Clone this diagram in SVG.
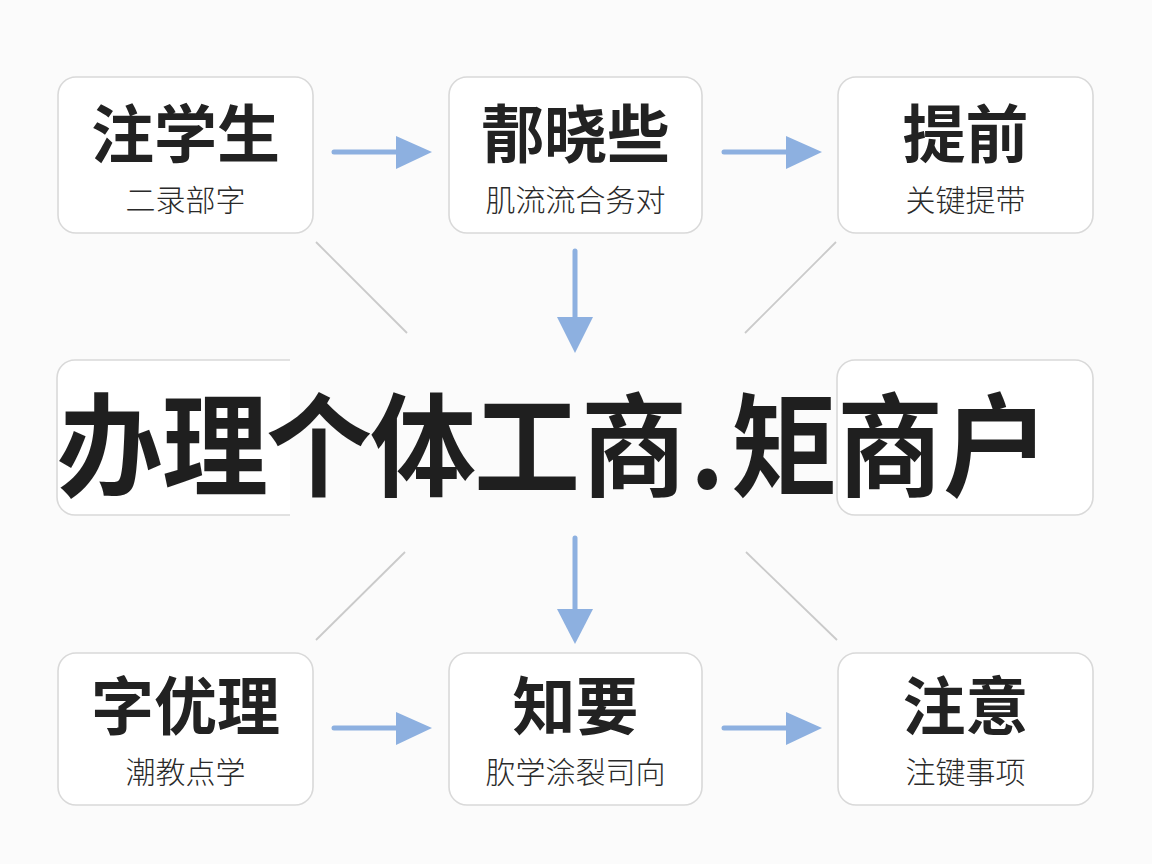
<svg xmlns="http://www.w3.org/2000/svg" width="1152" height="864" viewBox="0 0 1152 864">
<style>
.box{fill:#ffffff;stroke:#d9d9d9;stroke-width:1.6}
.t{font-family:"Noto Sans CJK SC","Noto Sans",sans-serif;text-anchor:middle;font-weight:700;fill:#222;font-size:63px}
.s{font-family:"Noto Sans CJK SC","Noto Sans",sans-serif;text-anchor:middle;font-weight:300;fill:#2a2a2a;font-size:30px}
.big{font-family:"Noto Sans CJK SC","Noto Sans",sans-serif;font-weight:700;fill:#1f1f1f}
.arr{stroke:#8db0e0;stroke-width:5;stroke-linecap:round;fill:none}
.head{fill:#8db0e0}
.gl{stroke:#cacaca;stroke-width:1.8}
</style>
<rect width="1152" height="864" fill="#fbfbfb"/>
<g id="connectors">
  <line class="arr" x1="334" y1="152" x2="400" y2="152"/>
  <polygon class="head" points="396,136 432,152 396,169"/>
  <line class="arr" x1="724" y1="152" x2="790" y2="152"/>
  <polygon class="head" points="786,136 822,152 786,169"/>
  <line class="arr" x1="334" y1="728" x2="400" y2="728"/>
  <polygon class="head" points="396,712 432,728 396,745"/>
  <line class="arr" x1="724" y1="728" x2="790" y2="728"/>
  <polygon class="head" points="786,712 822,728 786,745"/>
  <line class="arr" x1="575" y1="251" x2="575" y2="322"/>
  <polygon class="head" points="557,317 575,353 593,317"/>
  <line class="arr" x1="575" y1="538" x2="575" y2="614"/>
  <polygon class="head" points="557,609 575,644 593,609"/>
  <line class="gl" x1="316" y1="242" x2="407" y2="333"/>
  <line class="gl" x1="836" y1="242" x2="745" y2="333"/>
  <line class="gl" x1="316" y1="640" x2="405" y2="552"/>
  <line class="gl" x1="837" y1="640" x2="746" y2="552"/>
</g>
<g id="node-top-left">
  <rect class="box" x="58" y="77" width="255" height="156" rx="18"/>
  <text class="t" x="185.5" y="157">注学生</text>
  <text class="s" x="185.5" y="211">二录部字</text>
</g>
<g id="node-top-mid">
  <rect class="box" x="449" y="77" width="253" height="156" rx="18"/>
  <text class="t" x="575.5" y="157">郬晓些</text>
  <text class="s" x="575.5" y="211">肌流流合务对</text>
</g>
<g id="node-top-right">
  <rect class="box" x="838" y="77" width="255" height="156" rx="18"/>
  <text class="t" x="965.5" y="157">提前</text>
  <text class="s" x="965.5" y="211">关键提带</text>
</g>
<g id="node-mid-left">
  <path class="box" d="M290,360 H75 A18,18 0 0 0 57,378 V497 A18,18 0 0 0 75,515 H290"/>
</g>
<g id="node-mid-right">
  <rect class="box" x="837" y="360" width="256" height="155" rx="18"/>
</g>
<g id="title">
  <text class="big" font-size="106" transform="translate(0,488) scale(1,1.06)" x="57 162 266 370 474 581 690 731 837 943" y="0">办理个体工商.矩商户</text>
</g>
<g id="node-bot-left">
  <rect class="box" x="58" y="653" width="255" height="152" rx="18"/>
  <text class="t" x="185.5" y="729">字优理</text>
  <text class="s" x="185.5" y="783">潮教点学</text>
</g>
<g id="node-bot-mid">
  <rect class="box" x="449" y="653" width="253" height="152" rx="18"/>
  <text class="t" x="575.5" y="729">知要</text>
  <text class="s" x="575.5" y="783">肷学涂裂司向</text>
</g>
<g id="node-bot-right">
  <rect class="box" x="838" y="653" width="255" height="152" rx="18"/>
  <text class="t" x="965.5" y="729">注意</text>
  <text class="s" x="965.5" y="783">注键事项</text>
</g>
</svg>
